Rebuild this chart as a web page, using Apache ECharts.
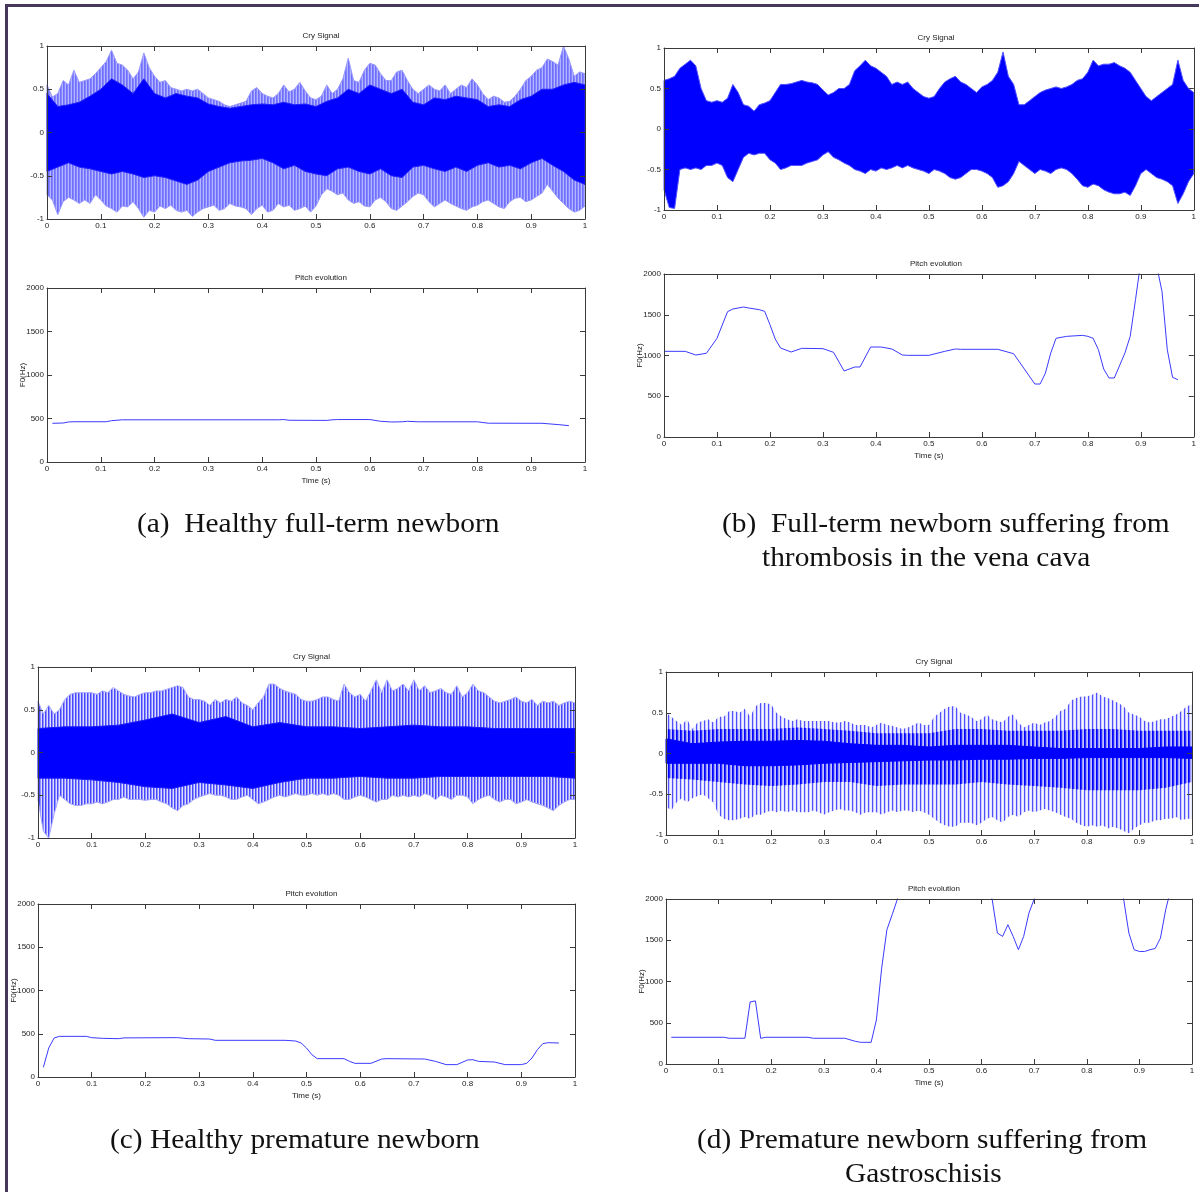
<!DOCTYPE html>
<html>
<head>
<meta charset="utf-8">
<script src="https://cdn.jsdelivr.net/npm/echarts@6.0.0/dist/echarts.min.js"></script>
<style>
  html, body { margin: 0; padding: 0; background: #fff; }
  #chart { width: 1199px; height: 1192px; }
</style>
</head>
<body>
<div id="chart"></div>
<script>
// ---- tick labels ----
const timeTicks = [0, 0.1, 0.2, 0.3, 0.4, 0.5, 0.6, 0.7, 0.8, 0.9, 1];
const cryTicks = [-1, -0.5, 0, 0.5, 1];
const pitchTicks = [0, 500, 1000, 1500, 2000];

// ---- cry signal envelopes (amplitude, sampled every 0.01 s) ----
const aOuterHi = [0.55,0.41,0.45,0.6,0.55,0.72,0.58,0.6,0.62,0.68,
  0.75,0.82,0.95,0.8,0.78,0.72,0.62,0.7,0.92,0.75,
  0.65,0.58,0.6,0.52,0.5,0.48,0.5,0.48,0.5,0.45,
  0.4,0.38,0.36,0.32,0.3,0.32,0.34,0.36,0.48,0.52,
  0.45,0.42,0.4,0.45,0.55,0.47,0.5,0.58,0.48,0.4,
  0.38,0.42,0.55,0.45,0.5,0.62,0.86,0.6,0.58,0.72,
  0.8,0.78,0.68,0.6,0.6,0.7,0.72,0.6,0.5,0.45,
  0.5,0.55,0.5,0.48,0.55,0.45,0.5,0.55,0.52,0.62,
  0.55,0.45,0.38,0.42,0.4,0.35,0.36,0.42,0.5,0.6,
  0.65,0.72,0.75,0.85,0.82,0.78,1.0,0.85,0.65,0.7,
  0.68];
const aOuterLo = [-0.72,-0.78,-0.95,-0.8,-0.75,-0.78,-0.82,-0.78,-0.82,-0.72,
  -0.78,-0.85,-0.88,-0.92,-0.85,-0.86,-0.8,-0.88,-0.98,-0.9,
  -0.92,-0.85,-0.88,-0.84,-0.9,-0.92,-0.9,-0.97,-0.92,-0.88,
  -0.86,-0.84,-0.9,-0.88,-0.82,-0.85,-0.86,-0.88,-0.95,-0.88,
  -0.84,-0.92,-0.9,-0.82,-0.86,-0.84,-0.9,-0.88,-0.85,-0.92,
  -0.85,-0.72,-0.65,-0.68,-0.72,-0.7,-0.78,-0.82,-0.8,-0.85,
  -0.86,-0.78,-0.75,-0.8,-0.88,-0.9,-0.85,-0.8,-0.74,-0.7,
  -0.72,-0.8,-0.86,-0.82,-0.78,-0.82,-0.85,-0.88,-0.9,-0.86,
  -0.84,-0.8,-0.78,-0.82,-0.86,-0.88,-0.8,-0.76,-0.75,-0.8,
  -0.78,-0.74,-0.7,-0.6,-0.68,-0.76,-0.82,-0.88,-0.92,-0.9,
  -0.85];
// dense core, sampled every 0.02 s
const aCoreHi = [0.45,0.3,0.32,0.35,0.42,0.5,0.62,0.55,0.45,0.62,
  0.45,0.4,0.45,0.42,0.4,0.33,0.3,0.28,0.3,0.32,
  0.33,0.32,0.35,0.32,0.33,0.3,0.36,0.4,0.5,0.45,
  0.55,0.5,0.45,0.5,0.35,0.32,0.4,0.38,0.42,0.4,
  0.38,0.3,0.32,0.3,0.38,0.42,0.5,0.5,0.55,0.58,
  0.55];
const aCoreLo = [-0.45,-0.4,-0.35,-0.4,-0.42,-0.45,-0.48,-0.45,-0.48,-0.52,
  -0.5,-0.52,-0.56,-0.6,-0.55,-0.45,-0.4,-0.35,-0.33,-0.32,
  -0.3,-0.35,-0.42,-0.38,-0.45,-0.48,-0.5,-0.42,-0.4,-0.45,
  -0.48,-0.42,-0.5,-0.52,-0.4,-0.38,-0.42,-0.45,-0.4,-0.45,
  -0.38,-0.35,-0.4,-0.38,-0.42,-0.35,-0.3,-0.38,-0.45,-0.55,
  -0.6];

const bOuterHi = [0.6,0.62,0.65,0.75,0.8,0.85,0.78,0.5,0.35,0.33,
  0.35,0.33,0.38,0.55,0.45,0.3,0.28,0.22,0.3,0.32,
  0.35,0.45,0.55,0.55,0.56,0.58,0.6,0.58,0.57,0.55,
  0.48,0.42,0.45,0.5,0.5,0.55,0.72,0.78,0.85,0.78,
  0.75,0.7,0.65,0.55,0.58,0.55,0.58,0.5,0.45,0.4,
  0.38,0.4,0.5,0.58,0.62,0.65,0.58,0.55,0.5,0.45,
  0.52,0.55,0.6,0.7,0.95,0.65,0.55,0.3,0.3,0.35,
  0.4,0.45,0.48,0.5,0.52,0.5,0.52,0.55,0.6,0.62,
  0.7,0.85,0.78,0.8,0.8,0.82,0.78,0.75,0.7,0.6,
  0.5,0.4,0.35,0.4,0.45,0.5,0.55,0.85,0.6,0.5,
  0.45];
const bOuterLo = [-0.75,-0.97,-0.98,-0.5,-0.48,-0.5,-0.48,-0.5,-0.45,-0.45,
  -0.42,-0.45,-0.6,-0.65,-0.5,-0.35,-0.3,-0.32,-0.3,-0.3,
  -0.38,-0.42,-0.5,-0.48,-0.45,-0.45,-0.45,-0.42,-0.4,-0.38,
  -0.32,-0.28,-0.35,-0.38,-0.42,-0.45,-0.5,-0.52,-0.55,-0.5,
  -0.52,-0.48,-0.5,-0.48,-0.45,-0.48,-0.45,-0.48,-0.5,-0.52,
  -0.55,-0.5,-0.52,-0.55,-0.6,-0.62,-0.6,-0.55,-0.5,-0.5,
  -0.52,-0.55,-0.6,-0.72,-0.7,-0.65,-0.55,-0.4,-0.45,-0.5,
  -0.55,-0.5,-0.52,-0.55,-0.5,-0.48,-0.5,-0.55,-0.62,-0.7,
  -0.72,-0.68,-0.7,-0.75,-0.78,-0.8,-0.8,-0.78,-0.82,-0.7,
  -0.55,-0.5,-0.55,-0.6,-0.62,-0.65,-0.7,-0.92,-0.8,-0.65,
  -0.55];

const cOuterHi = [0.6,0.45,0.55,0.45,0.5,0.62,0.68,0.7,0.7,0.7,
  0.7,0.68,0.72,0.7,0.76,0.72,0.68,0.66,0.65,0.68,
  0.7,0.7,0.72,0.72,0.74,0.76,0.78,0.76,0.65,0.62,
  0.62,0.6,0.55,0.62,0.58,0.62,0.6,0.65,0.58,0.55,
  0.5,0.58,0.65,0.8,0.8,0.75,0.72,0.7,0.68,0.62,
  0.6,0.6,0.62,0.65,0.65,0.62,0.6,0.8,0.7,0.65,
  0.68,0.6,0.72,0.85,0.7,0.85,0.72,0.75,0.8,0.72,
  0.85,0.72,0.78,0.7,0.72,0.75,0.7,0.68,0.78,0.65,
  0.7,0.8,0.72,0.7,0.65,0.6,0.58,0.6,0.62,0.65,
  0.6,0.58,0.62,0.55,0.6,0.58,0.6,0.55,0.58,0.6,
  0.58];
const cOuterLo = [-0.55,-0.92,-1.0,-0.72,-0.5,-0.55,-0.6,-0.62,-0.62,-0.6,
  -0.6,-0.58,-0.6,-0.58,-0.55,-0.55,-0.52,-0.55,-0.55,-0.55,
  -0.56,-0.55,-0.55,-0.58,-0.6,-0.65,-0.68,-0.62,-0.6,-0.55,
  -0.52,-0.5,-0.48,-0.5,-0.5,-0.52,-0.55,-0.55,-0.52,-0.5,
  -0.55,-0.6,-0.58,-0.55,-0.52,-0.5,-0.52,-0.5,-0.48,-0.5,
  -0.5,-0.48,-0.5,-0.48,-0.5,-0.48,-0.5,-0.55,-0.55,-0.52,
  -0.5,-0.52,-0.55,-0.58,-0.55,-0.55,-0.5,-0.52,-0.5,-0.52,
  -0.5,-0.52,-0.48,-0.5,-0.55,-0.5,-0.52,-0.55,-0.5,-0.5,
  -0.52,-0.6,-0.55,-0.52,-0.5,-0.55,-0.58,-0.55,-0.55,-0.6,
  -0.58,-0.55,-0.58,-0.6,-0.62,-0.65,-0.68,-0.62,-0.58,-0.55,
  -0.55];
// dense core, sampled every 0.05 s
const cCoreHi = [0.28,0.3,0.3,0.32,0.38,0.45,0.35,0.42,0.3,0.35,0.3,0.3,0.28,0.3,0.32,0.3,0.3,0.28,0.28,0.28,0.28];
const cCoreLo = [-0.3,-0.3,-0.32,-0.35,-0.4,-0.42,-0.35,-0.38,-0.42,-0.35,-0.3,-0.3,-0.28,-0.3,-0.3,-0.28,-0.28,-0.28,-0.28,-0.28,-0.3];

const dOuterHi = [0.5,0.45,0.4,0.35,0.42,0.3,0.38,0.4,0.42,0.38,
  0.45,0.45,0.52,0.52,0.5,0.55,0.45,0.58,0.62,0.62,
  0.6,0.5,0.45,0.42,0.4,0.42,0.4,0.4,0.4,0.4,
  0.4,0.4,0.38,0.38,0.4,0.38,0.35,0.35,0.35,0.32,
  0.35,0.38,0.35,0.34,0.32,0.3,0.32,0.35,0.38,0.35,
  0.35,0.45,0.5,0.55,0.58,0.58,0.5,0.48,0.45,0.4,
  0.42,0.48,0.42,0.4,0.38,0.45,0.48,0.38,0.32,0.35,
  0.38,0.35,0.38,0.4,0.45,0.52,0.55,0.65,0.68,0.7,
  0.7,0.72,0.75,0.7,0.68,0.65,0.62,0.58,0.5,0.48,
  0.45,0.4,0.38,0.4,0.42,0.42,0.45,0.48,0.52,0.58,
  0.6];
const dOuterLo = [-0.65,-0.7,-0.6,-0.55,-0.6,-0.55,-0.52,-0.5,-0.55,-0.6,
  -0.75,-0.8,-0.82,-0.82,-0.8,-0.78,-0.8,-0.75,-0.75,-0.72,
  -0.7,-0.72,-0.7,-0.72,-0.7,-0.72,-0.72,-0.72,-0.7,-0.72,
  -0.75,-0.72,-0.7,-0.68,-0.7,-0.7,-0.72,-0.75,-0.72,-0.72,
  -0.72,-0.75,-0.72,-0.7,-0.72,-0.7,-0.7,-0.72,-0.7,-0.72,
  -0.75,-0.8,-0.85,-0.88,-0.9,-0.9,-0.85,-0.85,-0.85,-0.88,
  -0.85,-0.8,-0.78,-0.82,-0.85,-0.78,-0.75,-0.78,-0.72,-0.7,
  -0.72,-0.7,-0.68,-0.7,-0.72,-0.75,-0.78,-0.8,-0.85,-0.88,
  -0.9,-0.88,-0.9,-0.88,-0.92,-0.9,-0.92,-0.95,-0.98,-0.92,
  -0.88,-0.85,-0.85,-0.82,-0.82,-0.8,-0.8,-0.78,-0.82,-0.8,
  -0.8];
// periodic dark pulses and dense core, sampled every 0.05 s
const dMidHi = [0.3,0.28,0.3,0.3,0.3,0.32,0.3,0.28,0.25,0.25,0.25,0.3,0.3,0.28,0.28,0.28,0.3,0.3,0.28,0.28,0.28];
const dMidLo = [-0.3,-0.32,-0.35,-0.38,-0.4,-0.38,-0.35,-0.35,-0.4,-0.38,-0.38,-0.38,-0.35,-0.38,-0.4,-0.42,-0.45,-0.45,-0.45,-0.42,-0.35];
const dCoreHi = [0.18,0.12,0.14,0.15,0.15,0.16,0.15,0.12,0.1,0.1,0.08,0.1,0.1,0.1,0.08,0.06,0.06,0.06,0.06,0.08,0.08];
const dCoreLo = [-0.12,-0.12,-0.12,-0.15,-0.15,-0.14,-0.12,-0.11,-0.1,-0.09,-0.08,-0.08,-0.07,-0.07,-0.06,-0.06,-0.05,-0.05,-0.05,-0.05,-0.06];

// ---- pitch contours: [time (s), F0 (Hz)] ----
const aPitch = [[0.01,445],[0.03,448],[0.04,460],[0.05,463],[0.11,463],[0.12,475],[0.14,485],[0.43,485],
  [0.44,488],[0.45,480],[0.52,478],[0.53,485],[0.54,488],[0.60,488],[0.62,468],[0.64,460],[0.66,462],
  [0.67,468],[0.69,462],[0.80,462],[0.82,446],[0.92,445],[0.95,430],[0.97,418]];
const bPitch = [[0.0,1051],[0.04,1051],[0.06,1006],[0.08,1027],[0.10,1211],[0.12,1538],[0.13,1570],
  [0.15,1595],[0.16,1583],[0.18,1562],[0.19,1542],[0.20,1378],[0.21,1202],[0.22,1092],[0.24,1043],
  [0.26,1088],[0.30,1084],[0.32,1039],[0.34,810],[0.36,859],[0.37,859],[0.39,1104],[0.41,1104],
  [0.43,1080],[0.45,1006],[0.46,1002],[0.50,1002],[0.53,1051],[0.55,1080],[0.56,1076],[0.63,1076],
  [0.66,1022],[0.70,650],[0.71,650],[0.72,785],[0.73,1030],[0.74,1211],[0.76,1235],[0.79,1247],
  [0.80,1235],[0.81,1211],[0.82,1071],[0.83,834],[0.84,724],[0.85,724],[0.87,1030],[0.88,1235],
  [0.89,1685],[0.90,2150],[0.92,2300],[0.93,2100],[0.94,1787],[0.95,1071],[0.96,732],[0.97,703]];
const cPitch = [[0.01,112],[0.02,335],[0.03,451],[0.04,470],[0.09,470],[0.10,455],[0.12,447],[0.15,443],
  [0.16,452],[0.26,455],[0.28,443],[0.32,439],[0.33,424],[0.46,424],[0.48,416],[0.49,393],[0.50,335],
  [0.51,258],[0.52,212],[0.57,212],[0.58,181],[0.59,158],[0.62,158],[0.64,208],[0.65,212],[0.72,208],
  [0.74,181],[0.76,143],[0.78,143],[0.80,197],[0.81,200],[0.82,181],[0.85,173],[0.87,143],[0.90,143],
  [0.91,158],[0.92,220],[0.93,316],[0.94,385],[0.95,397],[0.97,393]];
const dPitch = [[0.01,324],[0.11,324],[0.12,312],[0.15,312],[0.16,753],[0.17,765],[0.18,312],[0.19,324],
  [0.27,324],[0.28,312],[0.34,312],[0.36,275],[0.37,263],[0.39,263],[0.40,534],[0.41,1162],[0.42,1628],
  [0.43,1810],[0.44,2000],[0.45,2250],[0.60,2250],[0.62,2000],[0.63,1587],[0.64,1547],[0.65,1688],
  [0.66,1547],[0.67,1385],[0.68,1547],[0.69,1830],[0.70,2000],[0.71,2250],[0.86,2250],[0.87,2000],
  [0.88,1587],[0.89,1385],[0.90,1364],[0.91,1364],[0.92,1385],[0.93,1400],[0.94,1526],[0.95,1870],
  [0.955,2000],[0.97,2250]];

// sample times of the envelope arrays
const t100 = Array.from({length: 101}, (_, i) => i / 100);
const t50 = Array.from({length: 51}, (_, i) => i / 50);
const t20 = Array.from({length: 21}, (_, i) => i / 20);

// ---- panel frames (px) ----
const panels = [
  {kind: 'cry',   box: [47, 46, 538, 173]},
  {kind: 'pitch', box: [47, 288, 538, 174]},
  {kind: 'cry',   box: [664, 48, 534, 162]},
  {kind: 'pitch', box: [664, 274, 534, 163]},
  {kind: 'cry',   box: [38, 667, 537, 171]},
  {kind: 'pitch', box: [38, 904, 537, 173]},
  {kind: 'cry',   box: [666, 672, 526, 163]},
  {kind: 'pitch', box: [666, 899, 526, 165]}
];

const FONT = 'Liberation Sans Narrow, Arial Narrow, Liberation Sans, Arial, sans-serif';
const LBL = {fontSize: 8, color: '#222', fontFamily: FONT};
const FRAME = {show: true, onZero: false, lineStyle: {color: '#3a3a3a', width: 1}};
const TICK = {show: true, inside: true, length: 5, lineStyle: {color: '#3a3a3a'}};
const grids = [], xAxes = [], yAxes = [], titles = [], series = [];

panels.forEach((p, i) => {
  const [l, t, w, h] = p.box;
  grids.push({left: l, top: t, width: w, height: h, containLabel: false});
  const isCry = p.kind === 'cry';
  const ticks = isCry ? cryTicks : pitchTicks;
  const xBase = {type: 'value', gridIndex: i, min: timeTicks[0], max: timeTicks[timeTicks.length - 1],
    interval: 0.1, splitLine: {show: false}, axisLine: FRAME, axisTick: TICK, z: 10};
  xAxes.push(Object.assign({}, xBase, {position: 'bottom',
    axisLabel: Object.assign({margin: 3, formatter: v => String(+v.toFixed(1))}, LBL),
    name: isCry ? '' : 'Time (s)', nameLocation: 'middle', nameGap: 15, nameMoveOverlap: false,
    nameTextStyle: LBL}));
  xAxes.push(Object.assign({}, xBase, {position: 'top', axisLabel: {show: false}}));
  const yBase = {type: 'value', gridIndex: i, min: ticks[0], max: ticks[ticks.length - 1],
    interval: ticks[1] - ticks[0], splitLine: {show: false}, axisLine: FRAME, axisTick: TICK, z: 10};
  yAxes.push(Object.assign({}, yBase, {position: 'left',
    axisLabel: Object.assign({margin: 3, formatter: v => String(v)}, LBL),
    name: isCry ? '' : 'F0(Hz)', nameLocation: 'middle', nameGap: 20, nameRotate: 90,
    nameMoveOverlap: false, nameTextStyle: LBL}));
  yAxes.push(Object.assign({}, yBase, {position: 'right', axisLabel: {show: false}}));
  titles.push({text: isCry ? 'Cry Signal' : 'Pitch evolution', left: l + w / 2, top: t - 19,
    textAlign: 'center', textStyle: {fontSize: 8, fontWeight: 'normal', color: '#222', fontFamily: FONT}});
});

// vertical-stroke texture used for the sparse parts of a waveform
function strokes(cols) {
  const c = document.createElement('canvas');
  c.width = cols.length; c.height = 4;
  const g = c.getContext('2d');
  cols.forEach((col, i) => { g.fillStyle = col; g.fillRect(i, 0, 1, 4); });
  return {image: c, repeat: 'repeat'};
}

// closed envelope polygon between an upper and a lower amplitude trace
function band(panel, times, hi, lo, fill, edge) {
  series.push({type: 'custom', xAxisIndex: panel * 2, yAxisIndex: panel * 2,
    data: [[times[0], hi[0]]], silent: true, animation: false,
    renderItem: (params, api) => {
      const pts = [];
      times.forEach((tt, k) => pts.push(api.coord([tt, hi[k]])));
      for (let k = times.length - 1; k >= 0; k--) pts.push(api.coord([times[k], lo[k]]));
      return {type: 'polygon', shape: {points: pts},
        style: {fill: fill, stroke: edge, lineWidth: edge ? 1 : 0}};
    }});
}
function pitch(panel, pts) {
  series.push({type: 'line', xAxisIndex: panel * 2, yAxisIndex: panel * 2, data: pts,
    symbol: 'none', silent: true, animation: false, clip: true,
    lineStyle: {width: 1, color: '#3a3aff'}});
}

band(0, t100, aOuterHi, aOuterLo, strokes(['#6f6fff', '#8484ff', '#b4b4ff']), '#9a9aff');
band(0, t50, aCoreHi, aCoreLo, '#0000ff', '#2020ff');
pitch(1, aPitch);
band(2, t100, bOuterHi, bOuterLo, '#0000ff', '#5050ff');
pitch(3, bPitch);
band(4, t100, cOuterHi, cOuterLo, strokes(['#4646ff', '#9090ff', '#dcdcff']), '#a8a8ff');
band(4, t20, cCoreHi, cCoreLo, '#0000ff', '#1818ff');
pitch(5, cPitch);
band(6, t100, dOuterHi, dOuterLo, strokes(['#5050ff', '#c8c8ff', '#f4f4ff', '#e6e6ff']), null);
band(6, t20, dMidHi, dMidLo, strokes(['#0000ff', '#2a2aff', '#9a9aff', '#c0c0ff']), null);
band(6, t20, dCoreHi, dCoreLo, '#0000ff', '#0000ff');
pitch(7, dPitch);

const serif = 'Liberation Serif, Times New Roman, serif';
const caption = (x, y, text) => ({type: 'text', x: x, y: y, z: 50, scaleX: 1.05,
  style: {text: text, font: '28px ' + serif, fill: '#111', textVerticalAlign: 'middle'}});

const chart = echarts.init(document.getElementById('chart'), null, {renderer: 'canvas'});
chart.setOption({
  backgroundColor: '#fff',
  animation: false,
  title: titles,
  grid: grids,
  xAxis: xAxes,
  yAxis: yAxes,
  series: series,
  graphic: {
    z: 100,
    elements: [
      {type: 'rect', shape: {x: 5, y: 4, width: 3, height: 1188}, style: {fill: '#45385a'}},
      {type: 'rect', shape: {x: 5, y: 4, width: 1194, height: 3}, style: {fill: '#45385a'}},
      // upper part of the lower-left signal title is hidden by the figure margin
      {type: 'rect', shape: {x: 270, y: 646, width: 70, height: 9}, style: {fill: '#fff'}},
      caption(137, 525, '(a)  Healthy full-term newborn'),
      caption(722, 525, '(b)  Full-term newborn suffering from'),
      caption(762, 559, 'thrombosis in the vena cava'),
      caption(110, 1141, '(c) Healthy premature newborn'),
      caption(697, 1141, '(d) Premature newborn suffering from'),
      caption(845, 1175, 'Gastroschisis')
    ]
  }
});
</script>
</body>
</html>
